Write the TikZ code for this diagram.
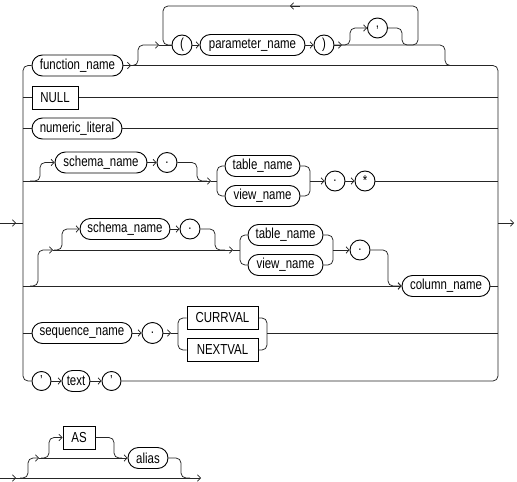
\documentclass[tikz,border=0pt]{standalone}
\usepackage{fontspec}
\setmainfont{Liberation Sans}[FakeStretch=0.79]
\usetikzlibrary{arrows.meta}
\begin{document}
\begin{tikzpicture}[x=1pt,y=-1pt,line width=0.75pt,color=black!85,
  font=\fontsize{14.5}{17}\selectfont,
  oval/.style={draw=black,text=black,line width=0.9pt,rounded corners=10.5pt,minimum height=21pt,inner sep=0pt,minimum width=#1},
  kwbox/.style={draw=black,text=black,line width=1pt,minimum height=23pt,inner sep=0pt,minimum width=#1},
  circ/.style={draw=black,text=black,line width=0.9pt,circle,minimum size=#1,inner sep=0pt},
  circ/.default=20pt,
  rl/.style={rounded corners=5pt},
  ar/.style={-{Straight Barb[length=3pt,width=6.5pt]}}]
\useasboundingbox (0,0) rectangle (517,482);
% nodes
\node[oval=91] (fn) at (77.5,65.5) {function\_name};
\node[circ] (lp) at (182,45) {(};
\node[oval=105] (pn) at (252.5,45) {parameter\_name};
\node[circ] (rp) at (324,45) {)};
\node[circ] (cm) at (377.5,28) {,};
\node[kwbox=46] (nl) at (55,97.5) {NULL};
\node[oval=90] (num) at (77,128.5) {numeric\_literal};
\node[oval=92] (s1) at (101,162.5) {schema\_name};
\node[circ] (d1) at (167,162.5) {.};
\node[oval=75] (t1) at (262.5,166) {table\_name};
\node[oval=75] (v1) at (262.5,196) {view\_name};
\node[circ] (d2) at (335,181) {.};
\node[circ] (st) at (365,181) {*};
\node[oval=90] (s2) at (125,229) {schema\_name};
\node[circ] (d3) at (190,229) {.};
\node[oval=75] (t2) at (285.5,235) {table\_name};
\node[oval=75] (v2) at (285.5,265) {view\_name};
\node[circ] (d4) at (360,250) {.};
\node[oval=88] (col) at (446,286) {column\_name};
\node[oval=100] (seq) at (82,333) {sequence\_name};
\node[circ=21pt] (d5) at (152.5,333) {.};
\node[kwbox=71] (cur) at (222.5,318) {CURRVAL};
\node[kwbox=71] (nxt) at (222.5,350) {NEXTVAL};
\node[circ=19pt] (q1) at (41.5,381) {'};
\node[oval=28] (tx) at (76,381) {text};
\node[circ=19pt] (q2) at (111.5,381) {'};
\node[kwbox=32] (as) at (79,437.5) {AS};
\node[oval=40] (al) at (148,458) {alias};
% rails
\coordinate (L) at (23,0);
\coordinate (R) at (498,0);
\coordinate (in) at (0,223);
\coordinate (out) at (514,223);
\coordinate (r4) at (0,181);
\coordinate (r5) at (0,286);
\coordinate (r6) at (0,333);
\draw (in) -- (L |- in);
\draw[ar] (in) -- (16,223);
\draw[rl] (fn.west) -- (L |- fn) -- (L |- q1) -- (q1.west);
\draw[rl] (fn.east) -- (R |- fn) -- (R |- q2) -- (q2.east);
\draw[ar] (R |- out) -- (out);
\draw (L |- nl) -- (nl.west);
\draw (nl.east) -- (R |- nl);
\draw (L |- num) -- (num.west);
\draw (num.east) -- (R |- num);
\draw (L |- seq) -- (seq.west);
% row 1
\draw[ar] (fn.east) -- (131,65.5);
\draw[rl,ar] (129,65.5) -- (138,65.5) -- (138,45) -- (159,45);
\draw (159,45) -- (lp.west);
\draw[ar] (lp.east) -- (pn.west);
\draw[ar] (pn.east) -- (rp.west);
\draw[ar] (rp.east) -- (342,45);
\draw[rl] (rp.east) -- (445,45) -- (445,65.5) -- (455,65.5);
\draw[rl,ar] (342,45) -- (350,45) -- (350,28) -- (cm.west);
\draw[rl] (cm.east) -- (402,28) -- (402,45) -- (418,45) -- (418,6) -- (163,6) -- (163,45) -- (lp.west);
\draw[ar] (300,6) -- (290,6);
% row 4
\draw[ar] (L |- r4) -- (211,181);
\draw (211,181) -- (217,181);
\draw[rl,ar] (30,181) -- (40,181) -- (40,162.5) -- (s1.west);
\draw[ar] (s1.east) -- (d1.west);
\draw[rl] (d1.east) -- (197,162.5) -- (197,181) -- (207,181);
\draw[rl] (t1.west) -- (217,166) -- (217,196) -- (v1.west);
\draw[rl] (t1.east) -- (310,166) -- (310,196) -- (v1.east);
\draw[ar] (310,181) -- (d2.west);
\draw[ar] (d2.east) -- (st.west);
\draw (st.east) -- (R |- st);
% row 5
\draw[ar] (L |- r5) -- (col.west);
\draw[rl,ar] (30,286) -- (38,286) -- (38,250) -- (53,250);
\draw[ar] (53,250) -- (233,250);
\draw (233,250) -- (240,250);
\draw[rl,ar] (54,250) -- (62,250) -- (62,229) -- (s2.west);
\draw[ar] (s2.east) -- (d3.west);
\draw[rl] (d3.east) -- (215,229) -- (215,250) -- (225,250);
\draw[rl] (t2.west) -- (240,235) -- (240,265) -- (v2.west);
\draw[rl] (t2.east) -- (333,235) -- (333,265) -- (v2.east);
\draw[ar] (333,250) -- (d4.west);
\draw[rl,ar] (d4.east) -- (388,250) -- (388,286) -- (col.west);
\draw (col.east) -- (R |- col);
% row 6
\draw[ar] (seq.east) -- (d5.west);
\draw[ar] (d5.east) -- (171,333);
\draw (171,333) -- (178,333);
\draw[rl] (cur.west) -- (178,318) -- (178,350) -- (nxt.west);
\draw[rl] (cur.east) -- (267,318) -- (267,350) -- (nxt.east);
\draw (267,333) -- (R |- r6);
% row 7
\draw[ar] (q1.east) -- (tx.west);
\draw[ar] (tx.east) -- (q2.west);
% alias
\draw[ar] (0,478) -- (201,478);
\draw[ar] (0,478) -- (16,478);
\draw[rl,ar] (20,478) -- (28,478) -- (28,458) -- (39,458);
\draw[ar] (39,458) -- (al.west);
\draw[rl,ar] (41,458) -- (49,458) -- (49,437.5) -- (as.west);
\draw[rl] (as.east) -- (114,437.5) -- (114,458) -- (122,458);
\draw[rl] (al.east) -- (181,458) -- (181,478) -- (190,478);
\end{tikzpicture}
\end{document}
